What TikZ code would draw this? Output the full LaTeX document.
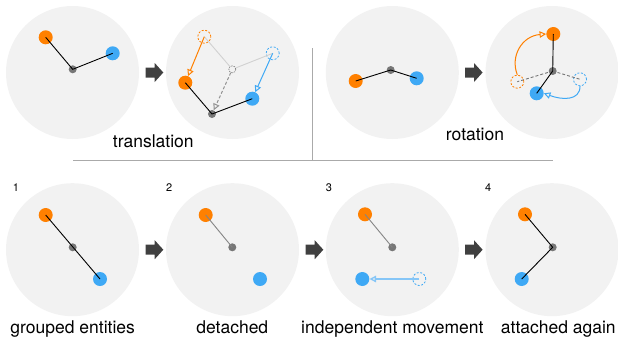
\documentclass[tikz,border=0pt]{standalone}
\usepackage{fontspec}
\setmainfont{TeX Gyre Heros}
\usetikzlibrary{arrows.meta}
\definecolor{org}{HTML}{FF8000}
\definecolor{blu}{HTML}{3FA9F5}
\definecolor{lblu}{HTML}{86C6F7}
\definecolor{bgc}{HTML}{F2F2F2}
\definecolor{dotc}{HTML}{777777}
\definecolor{blockc}{HTML}{404040}
\definecolor{sepc}{HTML}{AAAAAA}
\begin{document}
\begin{tikzpicture}[x=1pt,y=-1pt,
  panel/.style={circle, fill=bgc, minimum size=133pt, inner sep=0pt},
  entO/.style={circle, fill=org, minimum size=14pt, inner sep=0pt},
  entB/.style={circle, fill=blu, minimum size=14pt, inner sep=0pt},
  ghostO/.style={circle, draw=org, line width=0.8pt, dash pattern=on 2pt off 1.6pt, minimum size=13pt, inner sep=0pt},
  ghostB/.style={circle, draw=blu, line width=0.8pt, dash pattern=on 2pt off 1.6pt, minimum size=13pt, inner sep=0pt},
  ctr/.style={circle, fill=dotc, minimum size=8pt, inner sep=0pt},
  ghostC/.style={circle, draw=dotc, line width=0.6pt, dash pattern=on 1.5pt off 1pt, minimum size=7pt, inner sep=0pt},
  link/.style={line width=0.9pt, black},
  glink/.style={line width=0.9pt, color=dotc!90},
  ghostlink/.style={line width=0.9pt, color=black!18},
  dlink/.style={line width=0.9pt, color=dotc, dash pattern=on 3pt off 2pt},
  mv/.style={line width=1pt, -{Triangle[open, length=6.5pt, width=6.5pt]}},
  lbl/.style={font=\fontsize{17.5}{20}\selectfont, anchor=base, inner sep=0pt},
  num/.style={font=\fontsize{11}{13}\selectfont, anchor=base, inner sep=0pt},
  blockarrow/.style={fill=blockc},
  sepline/.style={line width=1pt, color=sepc}
]
\path[use as bounding box] (0,0) rectangle (618,341);

% ---------- panels ----------
\node[panel] (p1) at (72.5,72.5) {};
\node[panel] (p2) at (232.5,72.5) {};
\node[panel] (p3) at (392.3,72.5) {};
\node[panel] (p4) at (552,72.5) {};
\node[panel] (p5) at (72.5,249.7) {};
\node[panel] (p6) at (232.5,249.7) {};
\node[panel] (p7) at (392.3,249.7) {};
\node[panel] (p8) at (552,249.7) {};

% ---------- block arrows ----------
\foreach \x/\y in {145.7/72.5, 465/72.5, 145.7/249.7, 305.7/249.7, 465/249.7}{
  \fill[blockarrow] (\x,\y-5) -- (\x+9,\y-5) -- (\x+9,\y-9.5) -- (\x+17.6,\y) -- (\x+9,\y+9.5) -- (\x+9,\y+5) -- (\x,\y+5) -- cycle;
}

% ---------- separators ----------
\coordinate (hl) at (73.3,160.7);
\coordinate (hr) at (552.7,160.7);
\coordinate (vt) at (312.7,48);
\coordinate (vb) at (312.7,160.7);
\draw[sepline] (hl) -- (hr);
\draw[sepline] (vt) -- (vb);

% ---------- panel 1 ----------
\node[entO] (o1) at (45.7,37.3) {};
\node[entB] (b1) at (112.7,53.3) {};
\node[ctr] (c1) at (72.7,69.3) {};
\draw[link] (o1.center) -- (c1.center) -- (b1.center);

% ---------- panel 2 (translation) ----------
\node[ghostO] (go2) at (204.3,36.7) {};
\node[ghostB] (gb2) at (272.7,53.3) {};
\node[ghostC] (gc2) at (232.3,69.3) {};
\draw[ghostlink] (go2.center) -- (gc2) -- (gb2.center);
\node[entO] (o2) at (185.3,82.7) {};
\node[entB] (b2) at (252.3,98.7) {};
\node[ctr] (c2) at (212,114) {};
\draw[link] (o2.center) -- (c2.center) -- (b2.center);
\draw[mv, org] (go2.center) -- (o2);
\draw[mv, blu] (gb2.center) -- (b2);
\draw[mv, dotc!80, dash pattern=on 3pt off 2pt] (gc2) -- (c2);
\node[lbl] (t1) at (153.3,147) {translation};

% ---------- panel 3 ----------
\node[entO] (o3) at (355.7,81) {};
\node[entB] (b3) at (416.7,78.3) {};
\node[ctr] (c3) at (390.7,70) {};
\draw[link] (o3.center) -- (c3.center) -- (b3.center);

% ---------- panel 4 (rotation) ----------
\node[ghostO] (go4) at (517.3,81.7) {};
\node[ghostB] (gb4) at (580,79.3) {};
\node[ctr] (c4) at (552.7,71) {};
\draw[dlink] (c4.center) -- (go4.center);
\draw[dlink] (c4.center) -- (gb4.center);
\node[entO] (o4) at (553.3,34) {};
\node[entB] (b4) at (536.7,93.3) {};
\draw[link] (o4.center) -- (c4.center) -- (b4.center);
\draw[mv, org] (go4.north) .. controls (510,56) and (522,36) .. (o4.west);
\draw[mv, blu] (gb4.south) .. controls (580,101) and (562,100) .. (b4.east);
\node[lbl] (t2) at (475,140) {rotation};

% ---------- panel 5 ----------
\node[num] (n1) at (16,191.5) {1};
\node[entO] (o5) at (45.7,215) {};
\node[entB] (b5) at (100,279) {};
\node[ctr] (c5) at (72.7,247.3) {};
\draw[link] (o5.center) -- (b5.center);
\node[lbl] (t3) at (72.7,333.5) {grouped entities};

% ---------- panel 6 ----------
\node[num] (n2) at (169.3,191.5) {2};
\node[entO] (o6) at (205.7,215) {};
\node[entB] (b6) at (260,279) {};
\node[ctr] (c6) at (232.3,247.3) {};
\draw[glink] (o6.center) -- (c6.center);
\node[lbl] (t4) at (232.3,333.5) {detached};

% ---------- panel 7 ----------
\node[num] (n3) at (329,191.5) {3};
\node[entO] (o7) at (365,214.3) {};
\node[ctr] (c7) at (392.3,247.3) {};
\draw[glink] (o7.center) -- (c7.center);
\node[ghostB] (gb7) at (419.3,279) {};
\node[entB] (b7) at (362.3,279) {};
\draw[mv, lblu, line width=1.3pt] (gb7.center) -- (b7);
\node[lbl] (t5) at (392.3,333.5) {independent movement};

% ---------- panel 8 ----------
\node[num] (n4) at (488.3,191.5) {4};
\node[entO] (o8) at (525,214.3) {};
\node[entB] (b8) at (521.7,279) {};
\node[ctr] (c8) at (552.7,247.3) {};
\draw[link] (o8.center) -- (c8.center) -- (b8.center);
\node[lbl] (t6) at (558.3,333.5) {attached again};
\end{tikzpicture}
\end{document}
